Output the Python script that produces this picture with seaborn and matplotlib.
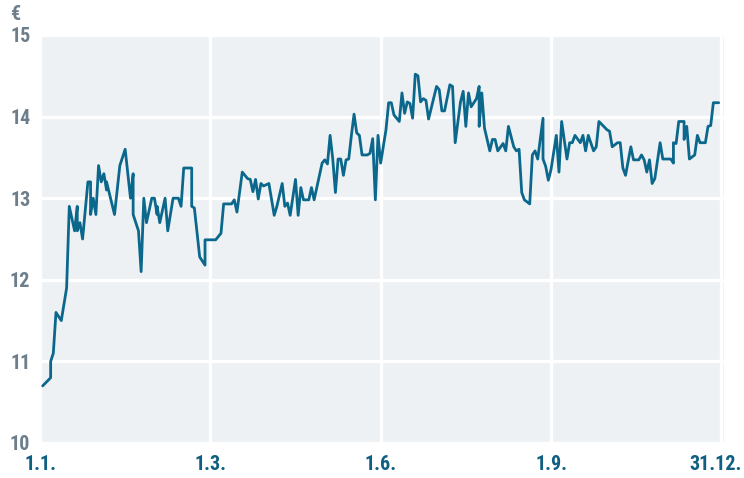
import numpy as np
import pandas as pd
import seaborn as sns
import matplotlib.pyplot as plt
from matplotlib.transforms import ScaledTranslation

# trading-day index (0 = 1.1., 256 = 31.12.) and share price in EUR
days = [
    1, 4, 4, 5, 6, 8, 10, 11, 13, 14, 14, 15, 16, 18, 19, 19, 20, 21, 22, 23,
    24, 25, 25, 28, 30, 32, 34, 35, 35, 37, 38, 39, 40, 42, 43, 44, 44, 45, 47, 48,
    50, 52, 53, 54, 57, 57, 58, 60, 62, 62, 66, 68, 69, 72, 73, 74, 76, 78, 79, 80,
    81, 82, 83, 84, 86, 88, 89, 91, 92, 93, 94, 96, 97, 98, 99, 101, 102, 103, 104, 106,
    107, 108, 109, 110, 111, 112, 113, 114, 115, 116, 117, 118, 119, 120, 121, 123, 124, 125, 126, 127,
    128, 130, 131, 132, 133, 135, 136, 137, 138, 139, 140, 141, 142, 143, 144, 145, 146, 149, 150, 151,
    152, 154, 155, 156, 158, 159, 160, 161, 162, 164, 165, 165, 166, 167, 169, 170, 171, 172, 174, 175,
    176, 178, 179, 180, 181, 182, 184, 185, 186, 187, 189, 189, 190, 191, 192, 194, 195, 196, 198, 199,
    200, 201, 203, 204, 205, 206, 208, 209, 210, 213, 214, 215, 217, 218, 219, 220, 222, 223, 225, 226,
    227, 228, 229, 230, 231, 233, 234, 237, 238, 238, 239, 240, 242, 242, 243, 244, 246, 247, 248, 250,
    251, 252, 253, 255,
]
price = [
    10.7, 10.8, 11.0, 11.1, 11.6, 11.5, 11.9, 12.9, 12.6, 12.9, 12.6, 12.7, 12.5, 13.2, 13.2, 12.8, 13.0, 12.8, 13.4, 13.2,
    13.3, 13.1, 13.2, 12.8, 13.4, 13.6, 13.0, 13.3, 12.8, 12.6, 12.1, 13.0, 12.7, 13.0, 13.0, 12.8, 12.9, 12.7, 13.0, 12.6,
    13.0, 13.0, 12.9, 13.37, 13.37, 12.9, 12.88, 12.28, 12.18, 12.49, 12.49, 12.57, 12.93, 12.93, 12.98, 12.83, 13.32, 13.24, 13.23, 13.08,
    13.23, 12.99, 13.18, 13.15, 13.18, 12.79, 12.9, 13.18, 12.9, 12.94, 12.79, 13.23, 12.79, 13.13, 12.98, 12.98, 13.13, 12.98, 13.13, 13.43,
    13.47, 13.42, 13.77, 13.48, 13.07, 13.48, 13.48, 13.28, 13.47, 13.48, 13.77, 14.03, 13.8, 13.77, 13.53, 13.53, 13.55, 13.73, 12.98, 13.77,
    13.43, 13.84, 14.17, 14.17, 14.02, 13.94, 14.29, 14.04, 14.18, 14.16, 13.98, 14.52, 14.5, 14.18, 14.22, 14.2, 13.97, 14.37, 14.33, 14.07,
    14.07, 14.39, 14.37, 13.68, 14.18, 14.31, 13.88, 14.29, 14.12, 14.22, 14.37, 13.88, 14.29, 13.86, 13.58, 13.72, 13.72, 13.58, 13.67, 13.58,
    13.88, 13.63, 13.58, 13.6, 13.07, 12.98, 12.93, 13.53, 13.58, 13.48, 13.98, 13.48, 13.39, 13.22, 13.35, 13.77, 13.32, 13.94, 13.48, 13.68,
    13.68, 13.77, 13.68, 13.77, 13.58, 13.77, 13.58, 13.63, 13.94, 13.84, 13.82, 13.63, 13.68, 13.68, 13.37, 13.28, 13.63, 13.47, 13.47, 13.53,
    13.47, 13.32, 13.47, 13.18, 13.24, 13.68, 13.48, 13.48, 13.43, 13.68, 13.67, 13.94, 13.94, 13.72, 13.88, 13.48, 13.53, 13.77, 13.68, 13.68,
    13.88, 13.89, 14.17, 14.17,
]
tick_pos = [0, 64, 128, 192, 256]
tick_labels = ["1.1.", "1.3.", "1.6.", "1.9.", "31.12."]
y_ticks = [10, 11, 12, 13, 14, 15]

df = pd.DataFrame({"day": days, "price": price})

sns.set_style("white")
plt.rcParams["font.family"] = ["Roboto Condensed", "Liberation Sans", "DejaVu Sans"]

fig = plt.figure(figsize=(7.44, 4.78), dpi=100)
ax = fig.add_axes([40 / 744, 35 / 478, 684 / 744, 408 / 478])
ax.set_facecolor("#eef1f3")

sns.lineplot(data=df, x="day", y="price", estimator=None, sort=False,
             color="#0b688c", linewidth=2.0, ax=ax, zorder=3)

ax.set_xlim(0, 257)
ax.set_ylim(10, 15)
ax.set_xticks(tick_pos)
ax.set_xticklabels(tick_labels)
ax.set_yticks(y_ticks)
ax.grid(True, color="white", linewidth=2.4)
ax.set_axisbelow(True)
for s in ax.spines.values():
    s.set_visible(False)
ax.tick_params(axis="x", length=0, pad=9, labelsize=14.5, labelcolor="#0f5f82")
ax.tick_params(axis="y", length=0, pad=7, labelsize=14.5, labelcolor="#6c7e8b")
for lbl in ax.get_xticklabels() + ax.get_yticklabels():
    lbl.set_fontweight("bold")
# keep the last date inside the canvas
last = ax.get_xticklabels()[-1]
last.set_transform(last.get_transform() + ScaledTranslation(-4 / 72, 0, fig.dpi_scale_trans))
ax.set_xlabel("")
ax.set_ylabel("")

fig.text(11 / 744, 1 - 15 / 478, "€", fontsize=14.5, fontweight="bold",
         color="#6c7e8b", ha="left", va="center")

fig.savefig("out.png", dpi=100)
